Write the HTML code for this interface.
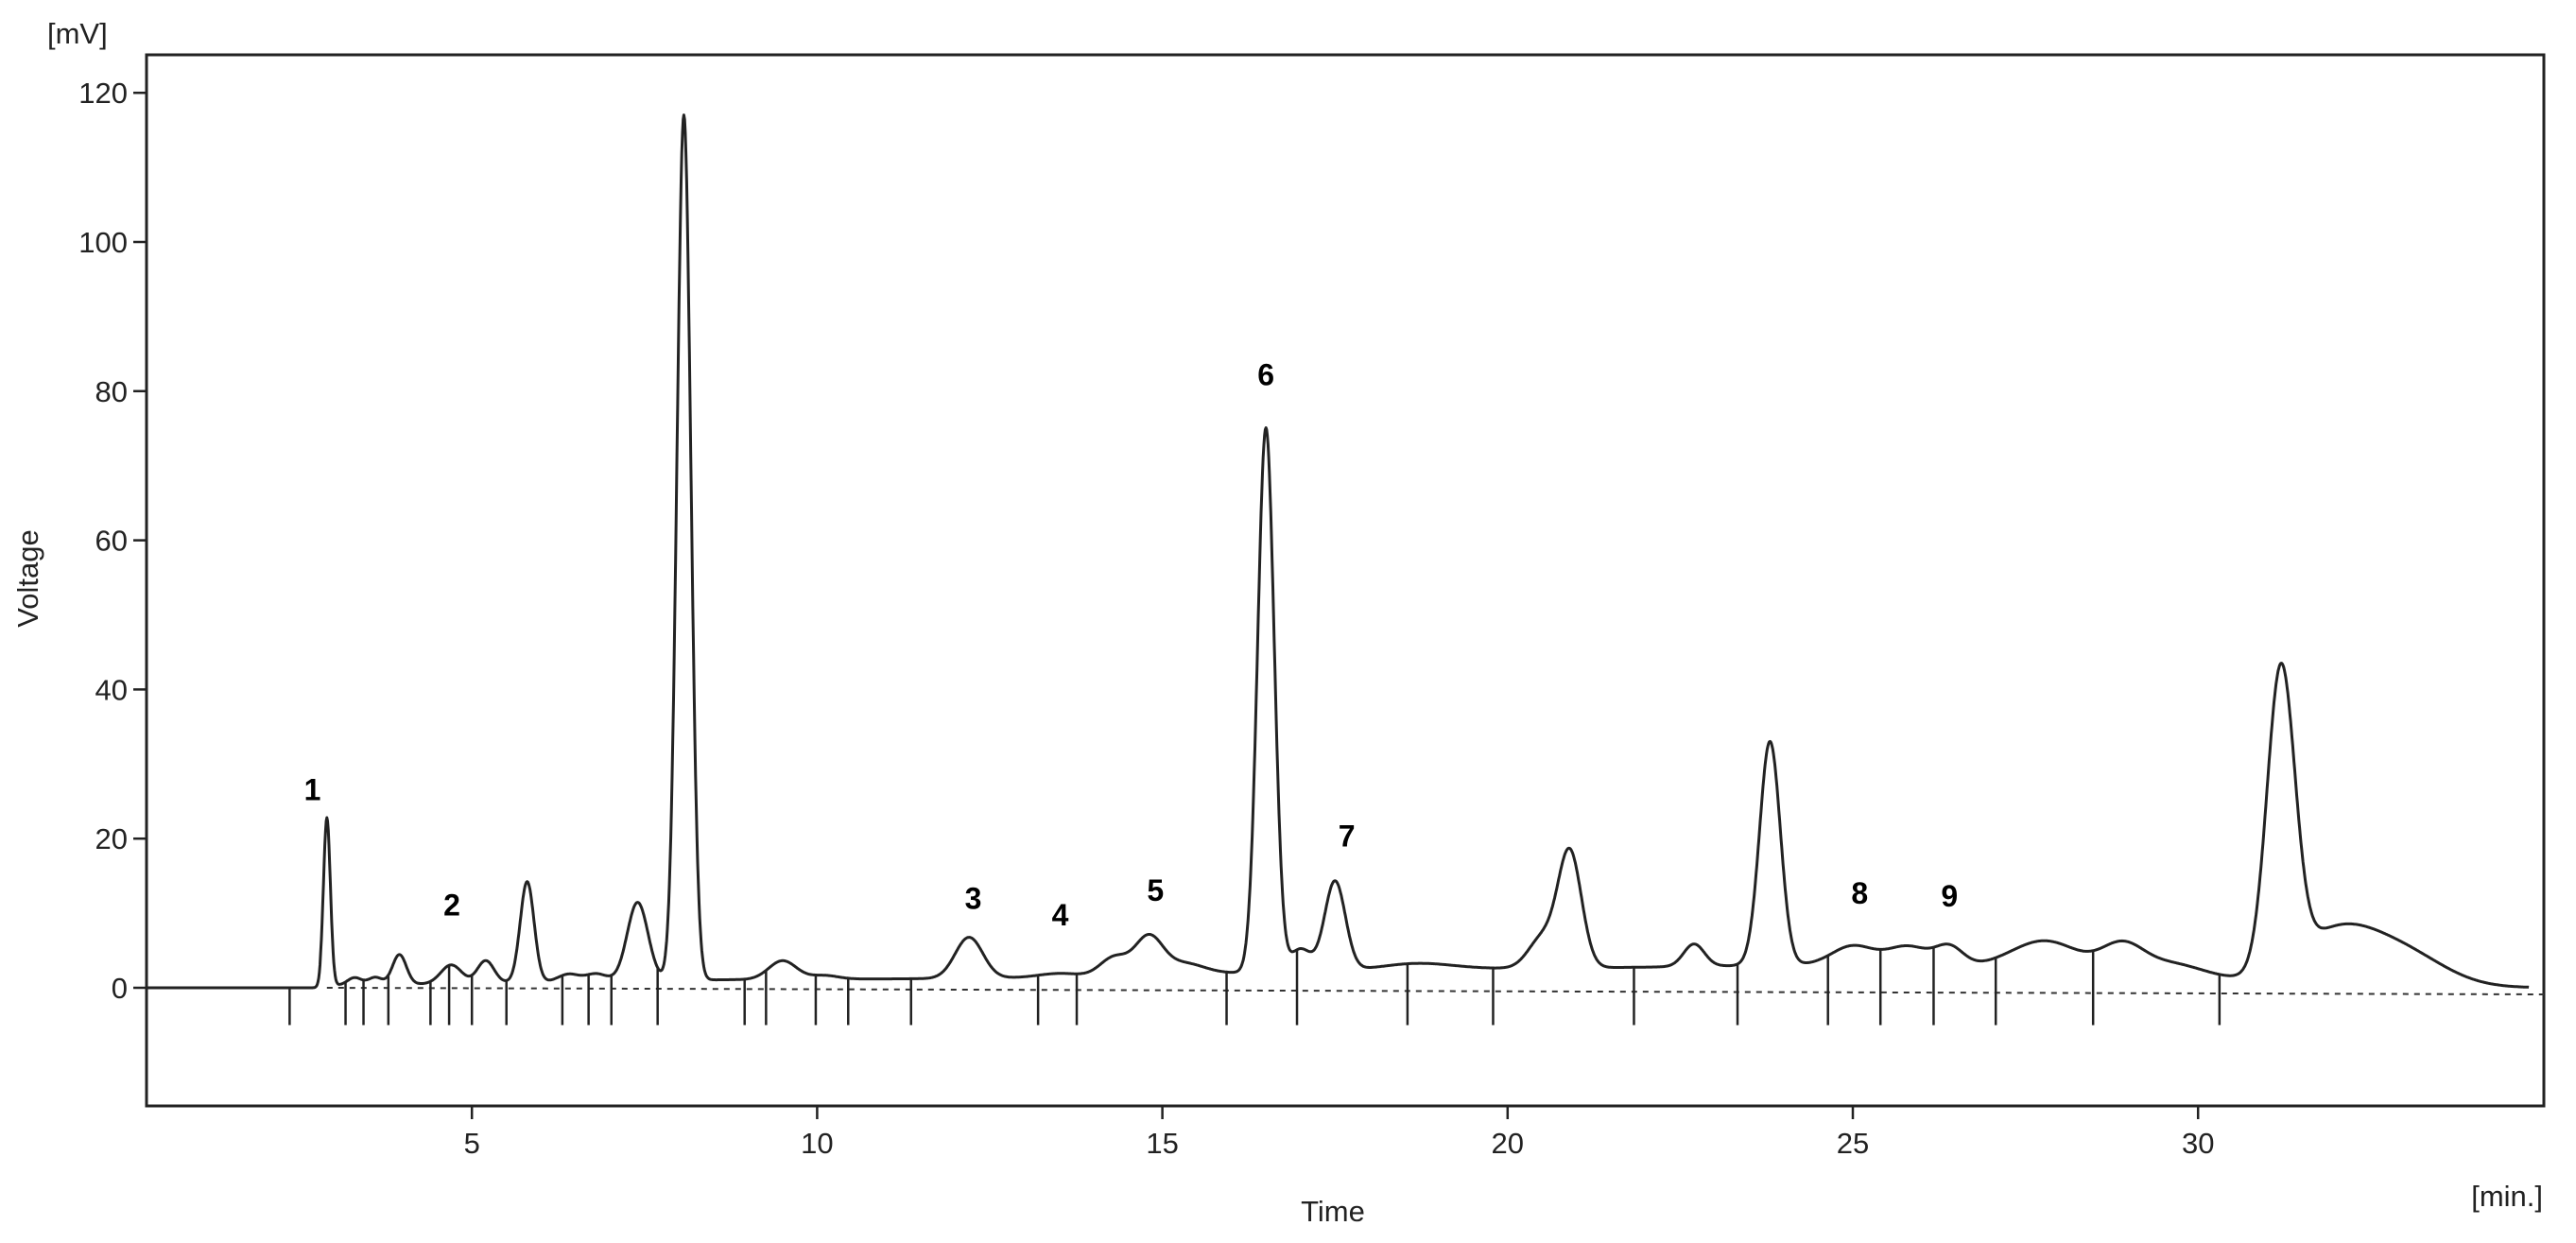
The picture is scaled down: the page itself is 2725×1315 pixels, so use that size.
<!DOCTYPE html>
<html><head><meta charset="utf-8"><style>
html,body{margin:0;padding:0;background:#fff;}
svg{display:block;font-family:"Liberation Sans",sans-serif;}
</style></head><body>
<svg id="chart" width="2725" height="1315" viewBox="0 0 2725 1315" xmlns="http://www.w3.org/2000/svg">
<rect x="0" y="0" width="2725" height="1315" fill="#fff"/>
<g id="plot"></g>
</svg>
<script>
const yTicks=[0,20,40,60,80,100,120];
const xTicks=[5,10,15,20,25,30];
const peakTimes=[2.9,3.3,3.6,3.95,4.7,5.2,5.8,6.4,6.8,7.4,8.07,9.5,10.1,12.2,13.5,14.3,14.8,15.3,16.5,17.0,17.5,18.7,20.5,20.9,22.7,23.8,25.0,25.8,26.4,27.8,28.9,29.6,31.2,32.0,33.0];
const peakHeights=[22.5,1,1,4,2.5,3,13.5,1,1,10.5,116,2.5,0.5,5.5,0.5,2.5,5,1.5,73,3,12,0.8,4,15.5,3,30,2.5,2.5,2.5,4,3.5,2,40,7,4];
const peakSigmas=[0.05,0.1,0.1,0.1,0.15,0.12,0.1,0.15,0.15,0.15,0.1,0.2,0.2,0.2,0.3,0.2,0.2,0.3,0.12,0.15,0.15,0.5,0.2,0.17,0.15,0.15,0.3,0.3,0.2,0.5,0.3,0.5,0.2,0.6,0.6];
const bgTimes=[9,19,26];
const bgHeights=[1,2.3,2.5];
const bgSigmas=[4,4,3];
const markTimes=[2.36,3.17,3.43,3.79,4.40,4.67,5.0,5.5,6.31,6.69,7.02,7.69,8.95,9.26,9.98,10.45,11.36,13.2,13.76,15.93,16.95,18.55,19.79,21.83,23.33,24.64,25.4,26.17,27.07,28.48,30.31];
const peakLabels=["1","2","3","4","5","6","7","8","9"];
const labelTimes=[2.69,4.71,12.26,13.52,14.9,16.5,17.67,25.1,26.4];
const labelValues=[26.7,11.2,12.1,9.9,13.2,82.3,20.5,12.8,12.4];

const NS="http://www.w3.org/2000/svg";
const g=document.getElementById('plot');
const X0=134,XS=73.04,Y0=1045,YS=7.89;
const L=155,T=58,R=2691,B=1170;
function x(t){return X0+XS*t;}
function y(v){return Y0-YS*v;}
function sig(t){let s=0;
 for(let i=0;i<peakTimes.length;i++){const d=(t-peakTimes[i])/peakSigmas[i];s+=peakHeights[i]*Math.exp(-0.5*d*d);}
 if(t>2.8){for(let i=0;i<bgTimes.length;i++){const d=(t-bgTimes[i])/bgSigmas[i];s+=bgHeights[i]*Math.exp(-0.5*d*d);}}
 return s;}
function el(tag,attrs,parent){const e=document.createElementNS(NS,tag);for(const k in attrs)e.setAttribute(k,attrs[k]);(parent||g).appendChild(e);return e;}

const frame=el('rect',{x:L,y:T,width:R-L,height:B-T,fill:'none',stroke:'#222','stroke-width':3});



const base=el('line',{x1:x(2.9),y1:y(0),x2:R,y2:y(0)+7,stroke:'#333','stroke-width':2,'stroke-dasharray':'6,6'});



yTicks.forEach(v=>{
 const tk=el('line',{x1:L-14,y1:y(v),x2:L,y2:y(v),stroke:'#222','stroke-width':2.5});
 
 
 const tx=el('text',{x:L-20,y:y(v)+11,'text-anchor':'end','font-size':31,fill:'#222'});
 tx.textContent=v;
 
 
});
xTicks.forEach(v=>{
 const tk=el('line',{x1:x(v),y1:B,x2:x(v),y2:B+14,stroke:'#222','stroke-width':2.5});
 
 
 const tx=el('text',{x:x(v),y:B+50,'text-anchor':'middle','font-size':31,fill:'#222'});
 tx.textContent=v;
 
 
});

let d='';
for(let t=0.3;t<=34.8;t+=0.01){d+=(d?'L':'M')+x(t).toFixed(1)+','+y(sig(t)).toFixed(1);}
const line=el('path',{d:d,fill:'none',stroke:'#222','stroke-width':3,'stroke-linejoin':'round'});



markTimes.forEach(t=>{
 const top=Math.min(sig(t),6);
 const m=el('line',{x1:x(t),y1:y(top),x2:x(t),y2:y(-5),stroke:'#222','stroke-width':2.5});
 
 
});

peakLabels.forEach((s,i)=>{
 const tx=el('text',{x:x(labelTimes[i]),y:y(labelValues[i])+12,'text-anchor':'middle','font-size':32,'font-weight':'bold',fill:'#000'});
 tx.textContent=s;
 
 
});

const mv=el('text',{x:50,y:46,'font-size':31,fill:'#222'});mv.textContent='[mV]';


const vt=el('text',{x:40,y:612,'font-size':31,fill:'#222','text-anchor':'middle',transform:'rotate(-90 40 612)'});vt.textContent='Voltage';


const tm=el('text',{x:1410,y:1292,'font-size':31,fill:'#222','text-anchor':'middle'});tm.textContent='Time';


const mn=el('text',{x:2690,y:1276,'font-size':31,fill:'#222','text-anchor':'end'});mn.textContent='[min.]';


</script>
</body></html>
